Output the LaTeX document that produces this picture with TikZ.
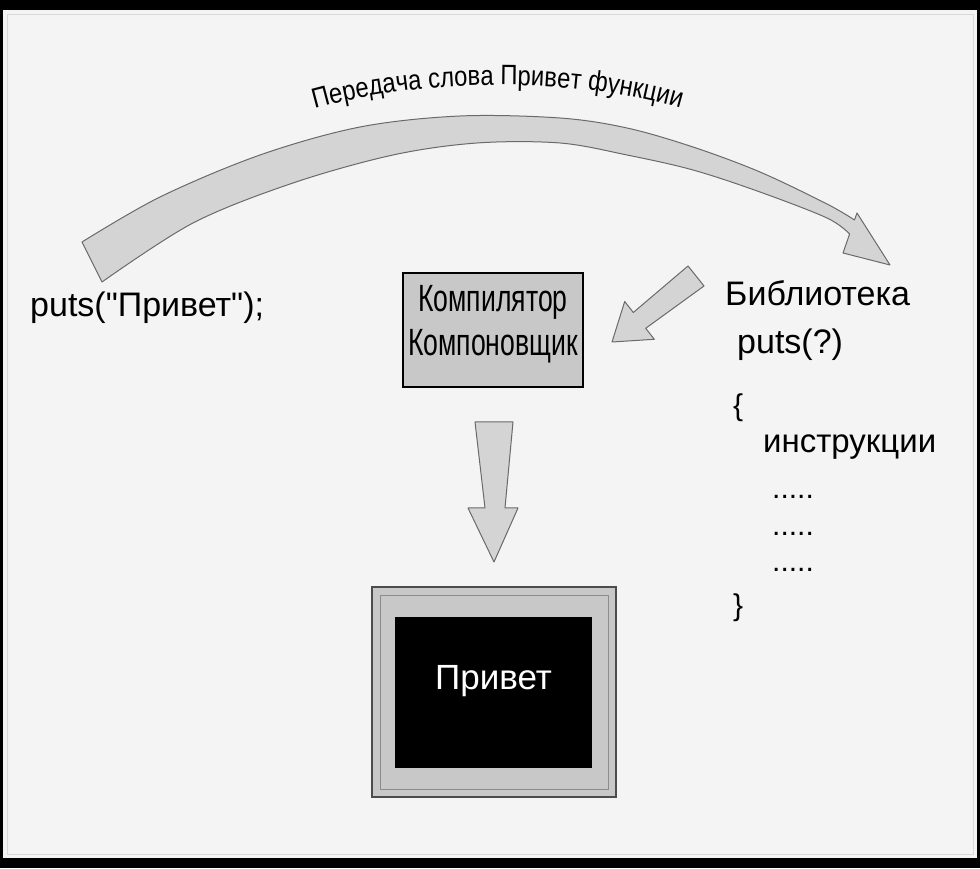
\documentclass[tikz,border=0pt]{standalone}
\usepackage{fontspec}
\setmainfont{Liberation Sans}
\newfontfamily\af{Liberation Sans}
\newfontfamily\narrowfont[FakeStretch=0.70]{Liberation Sans}
\newfontfamily\curvefont[FakeStretch=0.85]{Liberation Sans}
\usetikzlibrary{decorations.text}
\definecolor{bg}{HTML}{F4F4F4}
\definecolor{arrowfill}{HTML}{D4D4D4}
\definecolor{arrowline}{HTML}{6A6A6A}
\definecolor{boxfill}{HTML}{C8C8C8}
\tikzset{
  blockarrow/.style={fill=arrowfill, draw=arrowline, line width=1pt, line join=round},
  plaintext/.style={inner sep=0pt, anchor=base west, font=\af\fontsize{34}{40}\selectfont},
  codetext/.style={inner sep=0pt, anchor=base west, font=\af\fontsize{30}{36}\selectfont},
}
\begin{document}
\begin{tikzpicture}[x=1pt,y=1pt]
\useasboundingbox (0,0) rectangle (980,868);
% frame
\fill[bg] (0,0) rectangle (980,868);
\fill[black] (0,858) rectangle (980,868);
\fill[black] (0,0) rectangle (980,10);
\fill[black] (0,0) rectangle (3,868);
\fill[black] (977,0) rectangle (980,868);
\draw[color=black!15, line width=0.8pt] (7,14) rectangle (973,854);

% big curved arrow
\filldraw[blockarrow]
  plot[smooth, tension=0.55] coordinates {(82,626) (160,671) (260,713) (360,741) (460,752) (560,750) (627,740) (693,721) (760,696) (827,664) (854.5,648)}
  -- (857,655) -- (890,603) -- (843,615) -- (849.6,634)
  -- plot[smooth, tension=0.55] coordinates {(849.6,634) (827,650) (760,676) (693,698) (627,713) (560,725) (477,725) (393,713) (293,685) (193,645) (102,586)}
  -- cycle;

% curved label
\path[decorate, decoration={text along path, text align=center,
  text={|\curvefont\fontsize{28}{28}\selectfont|Передача слова Привет функции}}]
  (303,756) .. controls (420,792) and (580,792) .. (692,756);

% left text
\node[plaintext] (puts) at (30,551) {puts("Привет");};

% compiler box
\node[draw=black, line width=1.6pt, fill=boxfill, minimum width=180pt, minimum height=114pt, inner sep=0pt] (cbox) at (493,538) {};
\node[inner sep=0pt, align=center, font=\narrowfont\fontsize{38}{44}\selectfont] (ctext) at (493,544) {Компилятор\\Компоновщик};

% arrow library -> compiler
\filldraw[blockarrow] (688,602) -- (704,582) -- (645.7,539.7) -- (654.3,528.7) -- (612,526) -- (624.7,566.5) -- (633.3,555.5) -- cycle;

% library text
\node[plaintext] (lib) at (725,562) {Библиотека};
\node[plaintext] (libputs) at (737,514) {puts(?)};
\node[codetext] (lbrace) at (733,452) {\{};
\node[plaintext, font=\af\fontsize{33}{40}\selectfont] (instr) at (763,415) {инструкции};
\node[codetext] (dots1) at (772,369) {.....};
\node[codetext] (dots2) at (772,332) {.....};
\node[codetext] (dots3) at (772,296) {.....};
\node[codetext] (rbrace) at (733,252) {\}};

% down arrow
\filldraw[blockarrow] (475,446) -- (513,446) -- (505,360) -- (518,360) -- (494,306) -- (468,360) -- (485,360) -- cycle;

% monitor
\node[draw=black!70, line width=1.2pt, fill=boxfill, minimum width=244pt, minimum height=210pt, inner sep=0pt] (screen) at (494,176) {};
\draw[black!45, line width=0.6pt] (380,79) rectangle (608,273);
\node[fill=black, minimum width=197pt, minimum height=151pt, inner sep=0pt] (display) at (493.5,175.5) {};
\node[inner sep=0pt, anchor=base, text=white, font=\af\fontsize{35}{40}\selectfont] (hello) at (493.5,178) {Привет};
\end{tikzpicture}
\end{document}
